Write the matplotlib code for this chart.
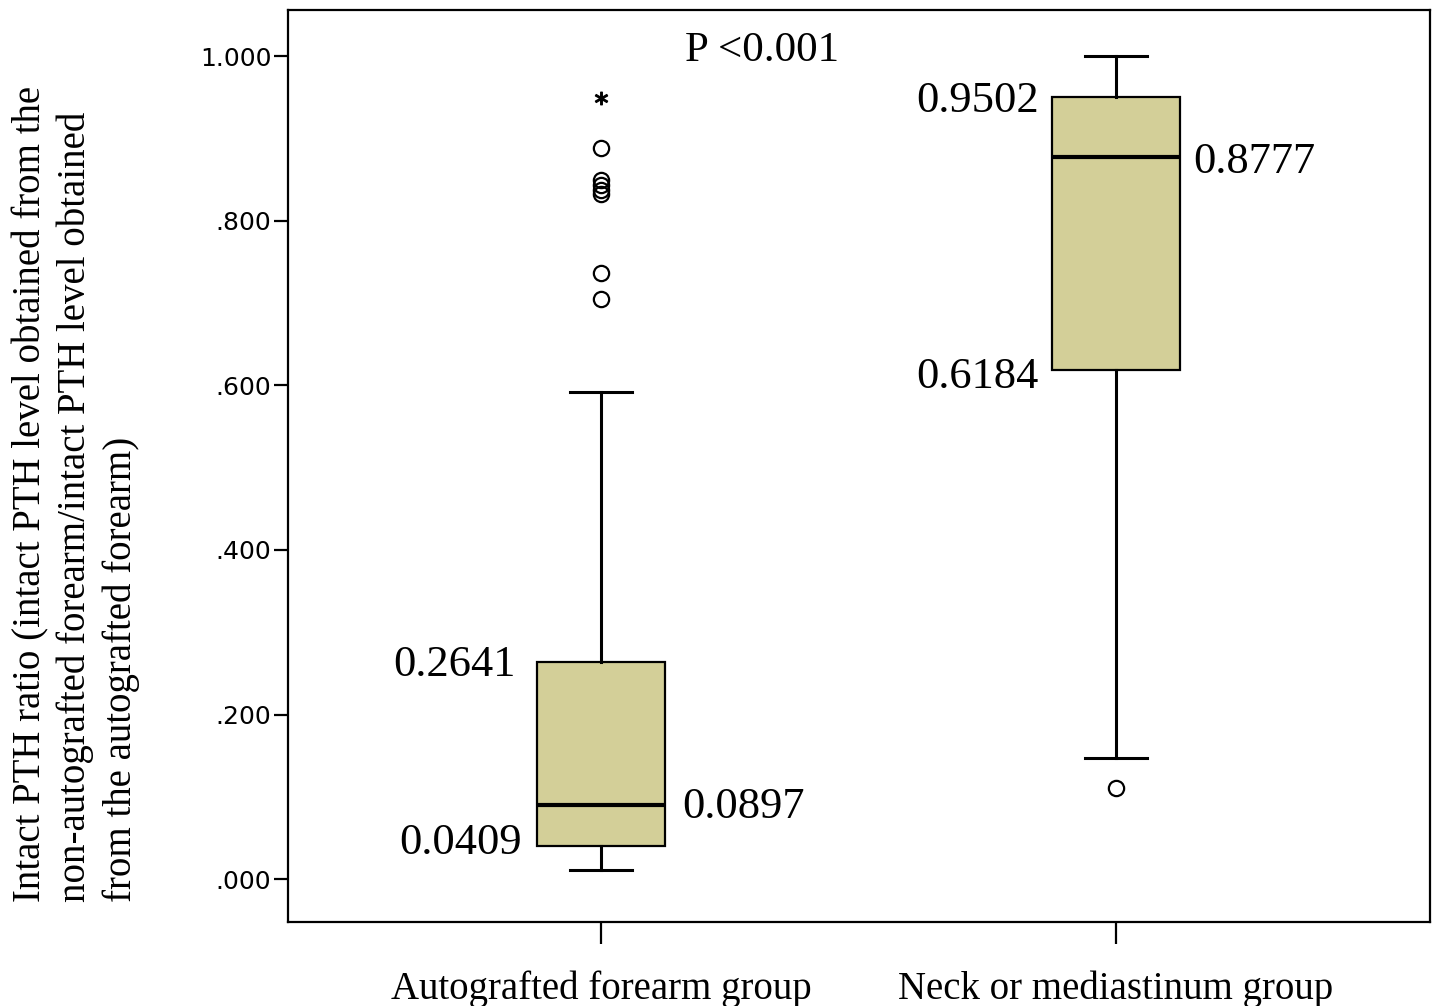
import matplotlib
matplotlib.use("Agg")
import matplotlib.pyplot as plt

# box summary values
groups = ["Autografted forearm group", "Neck or mediastinum group"]
q1 = [0.0409, 0.6184]
med = [0.0897, 0.8777]
q3 = [0.2641, 0.9502]
whislo = [0.011, 0.147]
whishi = [0.592, 1.000]
outliers = [[0.889, 0.849, 0.843, 0.837, 0.833, 0.736, 0.705], [0.111]]
extremes = [[0.949], []]
yticks = [0.0, 0.2, 0.4, 0.6, 0.8, 1.0]
ytick_labels = [".000", ".200", ".400", ".600", ".800", "1.000"]

serif = "Liberation Serif"
boxcol = "#D3CF98"

fig = plt.figure(figsize=(14.35, 10.06), dpi=100)
ax = fig.add_axes([0.2007, 0.0835, 0.7958, 0.9065])

pos = [1, 2]
stats = []
for i in range(2):
    stats.append(dict(q1=q1[i], med=med[i], q3=q3[i], whislo=whislo[i],
                      whishi=whishi[i], fliers=outliers[i]))

ax.bxp(stats, positions=pos, widths=0.25, patch_artist=True, showfliers=True,
       boxprops=dict(facecolor=boxcol, edgecolor="black", linewidth=1.6),
       medianprops=dict(color="black", linewidth=3),
       whiskerprops=dict(color="black", linewidth=2.2),
       capprops=dict(color="black", linewidth=2.2), capwidths=0.12,
       flierprops=dict(marker="o", markerfacecolor="none", markeredgecolor="black",
                       markersize=11, markeredgewidth=1.6))

for i in range(2):
    if extremes[i]:
        ax.plot([pos[i]] * len(extremes[i]), extremes[i], linestyle="none",
                marker="$*$", markersize=9, color="black")

ax.set_xlim(0.392, 2.61)
ax.set_ylim(-0.052, 1.056)
ax.set_yticks(yticks)
ax.set_yticklabels(ytick_labels, family="DejaVu Sans", fontsize=18)
ax.set_xticks(pos)
ax.set_xticklabels(groups, family=serif, fontsize=28)
ax.tick_params(axis="y", direction="out", length=10, width=1.6, pad=2)
ax.tick_params(axis="x", direction="out", length=16, width=1.6, pad=19)
for s in ax.spines.values():
    s.set_linewidth(1.6)

fig.text(12 / 1435, 1 - 902 / 1006,
         "Intact PTH ratio (intact PTH level obtained from the\n"
         "non-autografted forearm/intact PTH level obtained\n"
         "from the autografted forearm)",
         family=serif, fontsize=28, rotation=90, ha="left", va="bottom",
         multialignment="left", linespacing=1.27)

# value annotations beside each box
tk = dict(family=serif, fontsize=32, va="center")
ax.annotate("%.4f" % q3[0], (pos[0] - 0.125, q3[0]), xytext=(-15, -2),
            textcoords="offset points", ha="right", **tk)
ax.annotate("%.4f" % q1[0], (pos[0] - 0.125, q1[0]), xytext=(-11, 2),
            textcoords="offset points", ha="right", **tk)
ax.annotate("%.4f" % med[0], (pos[0] + 0.125, med[0]), xytext=(12, -1),
            textcoords="offset points", ha="left", **tk)
ax.annotate("%.4f" % q3[1], (pos[1] - 0.125, q3[1]), xytext=(-9, -3),
            textcoords="offset points", ha="right", **tk)
ax.annotate("%.4f" % q1[1], (pos[1] - 0.125, q1[1]), xytext=(-9, -5),
            textcoords="offset points", ha="right", **tk)
ax.annotate("%.4f" % med[1], (pos[1] + 0.125, med[1]), xytext=(9, -4),
            textcoords="offset points", ha="left", **tk)

ax.text(0.3476, 0.955, "P <0.001", transform=ax.transAxes, family=serif,
        fontsize=31, ha="left", va="center")

fig.savefig("out.png", dpi=100)
